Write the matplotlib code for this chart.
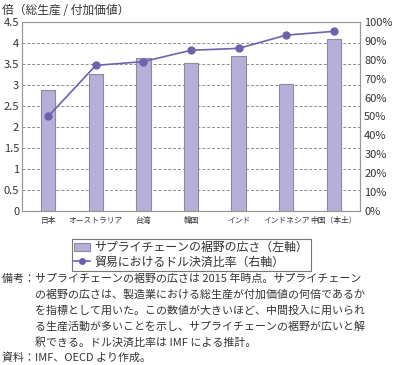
import matplotlib
matplotlib.use("Agg")
import matplotlib.pyplot as plt
from matplotlib.lines import Line2D
from matplotlib.patches import Patch
import numpy as np

plt.rcParams['font.family'] = ['Noto Sans CJK JP', 'DejaVu Sans']

# データ
countries = ["日本", "オーストラリア", "台湾", "韓国", "インド", "インドネシア", "中国（本土）"]
breadth = [2.87, 3.26, 3.64, 3.52, 3.69, 3.02, 4.09]      # 左軸（倍）
usd_share = [50, 77, 79, 85, 86, 93, 95]                   # 右軸（%）
left_ticks = [0, 0.5, 1, 1.5, 2, 2.5, 3, 3.5, 4, 4.5]
right_ticks = list(range(0, 101, 10))

bar_face = "#b4b0d8"
bar_edge = "#8e8a9e"
line_color = "#6b64ad"
grid_color = "#8c8c8c"
text_color = "#333333"

fig = plt.figure(figsize=(4.0, 3.65), dpi=100)
ax = fig.add_axes([0.055, 0.422, 0.845, 0.518])

x = np.arange(len(countries))
ax.bar(x, breadth, width=0.3, color=bar_face, edgecolor=bar_edge, linewidth=0.8, zorder=2)
ax.set_xlim(-0.55, len(countries) - 0.45)
ax.set_ylim(0, 4.5)
ax.set_yticks(left_ticks)
ax.set_yticklabels([f"{t:g}" for t in left_ticks], fontsize=8, color=text_color)
ax.set_xticks(x)
ax.set_xticklabels(countries, fontsize=5.6, color=text_color)
ax.tick_params(axis='both', length=0, pad=2)
ax.tick_params(axis='x', pad=4)
for t in left_ticks[1:-1]:
    ax.axhline(t, color=grid_color, linestyle=(0, (3, 2)), linewidth=0.7, zorder=1)
for s in ax.spines.values():
    s.set_color("#999999")
    s.set_linewidth(0.8)

ax2 = ax.twinx()
ax2.plot(x, usd_share, color=line_color, linewidth=1.2, marker='o', markersize=5, zorder=3)
ax2.set_ylim(0, 100)
ax2.set_yticks(right_ticks)
ax2.set_yticklabels([f"{t}%" for t in right_ticks], fontsize=8, color=text_color)
ax2.tick_params(axis='y', length=0, pad=3)
for s in ax2.spines.values():
    s.set_color("#999999")
    s.set_linewidth(0.8)

fig.text(0.005, 0.99, "倍（総生産 / 付加価値）", fontsize=8.5, color=text_color, va='top', ha='left')

handles = [Patch(facecolor=bar_face, edgecolor=bar_edge, linewidth=0.8),
           Line2D([0], [0], color=line_color, marker='o', markersize=4, linewidth=1.2)]
labels = ["サプライチェーンの裾野の広さ（左軸）", "貿易におけるドル決済比率（右軸）"]
leg = fig.legend(handles, labels, loc='upper center', bbox_to_anchor=(0.478, 0.362),
                 fontsize=8.6, frameon=True, fancybox=False, edgecolor="#555555",
                 handlelength=1.3, handletextpad=0.4, borderpad=0.2, labelspacing=0.1)
leg.get_frame().set_linewidth(0.8)
for t in leg.get_texts():
    t.set_color(text_color)

notes = ["備考：サプライチェーンの裾野の広さは 2015 年時点。サプライチェーン",
         "　　　の裾野の広さは、製造業における総生産が付加価値の何倍であるか",
         "　　　を指標として用いた。この数値が大きいほど、中間投入に用いられ",
         "　　　る生産活動が多いことを示し、サプライチェーンの裾野が広いと解",
         "　　　釈できる。ドル決済比率は IMF による推計。",
         "資料：IMF、OECD より作成。"]
y0 = 0.25
for i, line in enumerate(notes):
    fig.text(0.005, y0 - i * 0.0432, line, fontsize=7.9, color=text_color, va='top', ha='left')

fig.savefig("out.png", dpi=100)
